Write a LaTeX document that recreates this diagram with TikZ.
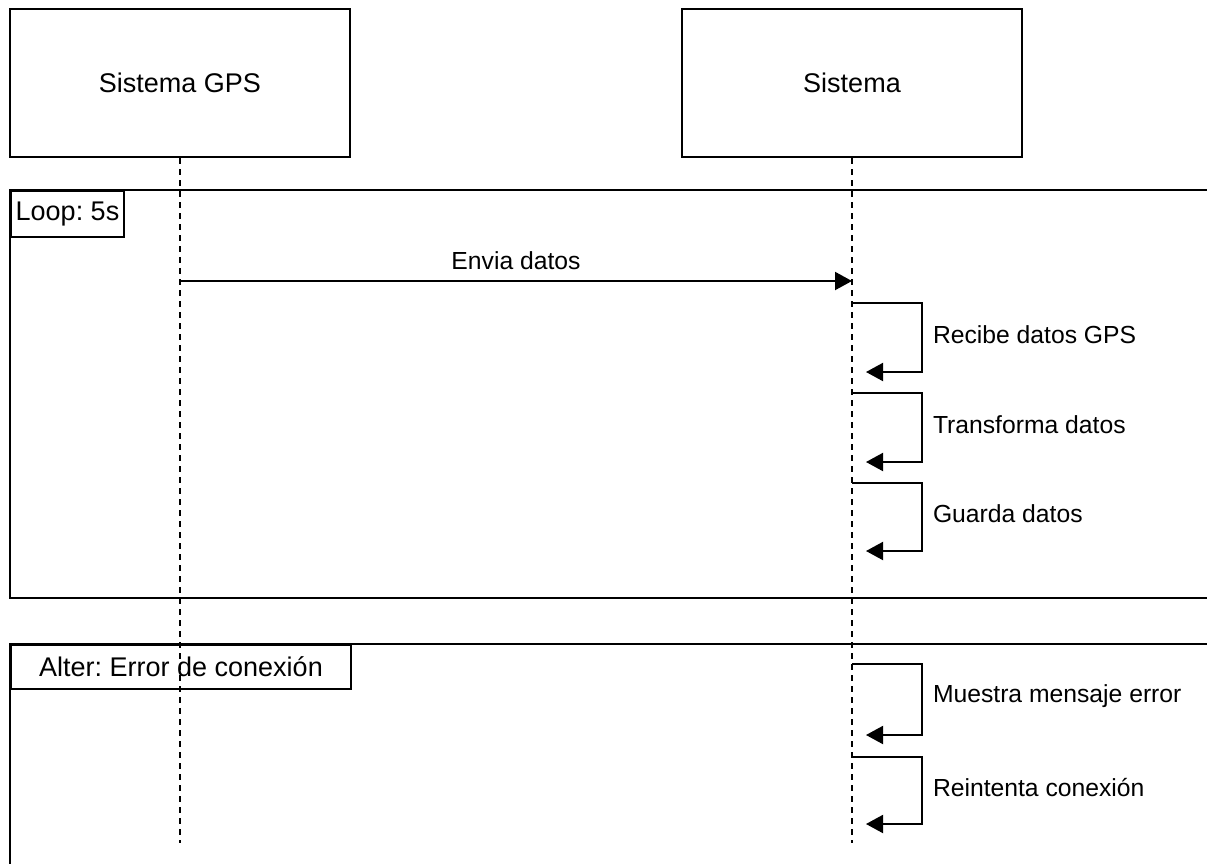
\documentclass[tikz,border=0pt]{standalone}
\usepackage{fontspec}
\setmainfont{Liberation Sans}
\usetikzlibrary{arrows.meta, positioning, calc}
\frenchspacing
\newcommand\diagfont{\fontsize{12.35}{14.8}\selectfont}
\newcommand\headfont{\fontsize{13.5}{16}\selectfont}
\tikzset{
    actor/.style={
        rectangle,
        draw=black,
        line width=1pt,
        minimum width=170pt,
        minimum height=74pt,
        fill=white,
        font=\headfont
    },
    framebox/.style={
        draw=black,
        line width=1pt
    },
    framelabel/.style={
        rectangle,
        draw=black,
        line width=1pt,
        fill=white,
        anchor=north west,
        inner sep=0pt,
        font=\headfont
    },
    lifeline/.style={
        draw=black,
        line width=1pt,
        dash pattern=on 3pt off 2.5pt
    },
    msg/.style={
        draw=black,
        line width=1pt,
        -{Triangle[length=8.5pt,width=9pt]}
    },
    msglabel/.style={
        font=\diagfont,
        inner sep=2pt
    }
}
\begin{document}
\begin{tikzpicture}[x=0.5pt, y=-0.5pt]
\useasboundingbox (0,0) rectangle (1207,864);

% Participants
\node[actor] (gps) at (180,83) {Sistema GPS};
\node[actor] (sis) at (852,83) {Sistema};

% Loop frame
\coordinate (loopne) at (1207,190);
\coordinate (loopnw) at (10,190);
\coordinate (loopsw) at (10,598);
\coordinate (loopse) at (1207,598);
\draw[framebox] (loopne) -- (loopnw) -- (loopsw) -- (loopse);
\node[framelabel, minimum width=56.5pt, minimum height=23pt] (looplabel) at (loopnw) {Loop: 5s};

% Alter frame
\coordinate (altne) at (1207,644);
\coordinate (altnw) at (10,644);
\coordinate (altsw) at (10,864);
\draw[framebox] (altne) -- (altnw) -- (altsw);
\node[framelabel, minimum width=170pt, minimum height=22pt] (altlabel) at (altnw) {Alter: Error de conexión};

% Lifelines
\coordinate (gpsend) at (180,843);
\coordinate (sisend) at (852,843);
\draw[lifeline] (gps.south) -- (gpsend);
\draw[lifeline] (sis.south) -- (sisend);

% Envia datos
\coordinate (envia0) at (180,281);
\coordinate (envia1) at (852,281);
\draw[msg] (envia0) -- node[msglabel, above=3pt] {Envia datos} (envia1);

% Self messages in the loop
\coordinate (recibe0) at (852,303);
\coordinate (recibe1) at (866,372);
\draw[msg] (recibe0) -- ++(70,0) -- node[msglabel, right=3pt, yshift=1.5pt] {Recibe datos GPS} ++(0,69) -- (recibe1);

\coordinate (transf0) at (852,393);
\coordinate (transf1) at (866,462);
\draw[msg] (transf0) -- ++(70,0) -- node[msglabel, right=3pt, yshift=1.5pt] {Transforma datos} ++(0,69) -- (transf1);

\coordinate (guarda0) at (852,483);
\coordinate (guarda1) at (866,551);
\draw[msg] (guarda0) -- ++(70,0) -- node[msglabel, right=3pt, yshift=1.5pt] {Guarda datos} ++(0,68) -- (guarda1);

% Self messages in the alter
\coordinate (muestra0) at (852,664);
\coordinate (muestra1) at (866,735);
\draw[msg] (muestra0) -- ++(70,0) -- node[msglabel, right=3pt, yshift=1.5pt] {Muestra mensaje error} ++(0,71) -- (muestra1);

\coordinate (reint0) at (852,757);
\coordinate (reint1) at (866,824);
\draw[msg] (reint0) -- ++(70,0) -- node[msglabel, right=3pt, yshift=1.5pt] {Reintenta conexión} ++(0,67) -- (reint1);

\end{tikzpicture}
\end{document}
